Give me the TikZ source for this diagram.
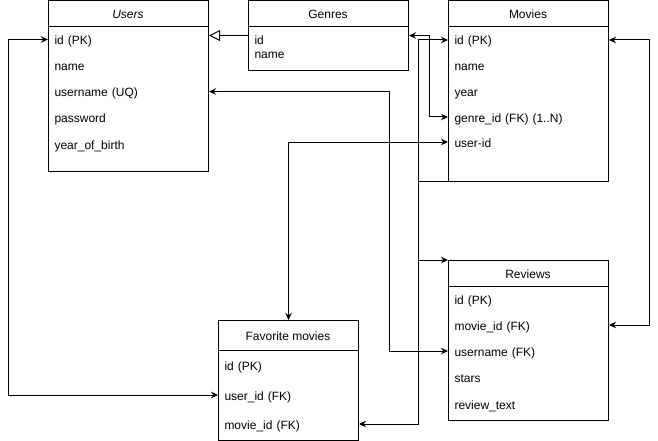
\documentclass[tikz,border=0pt]{standalone}
\usepackage{fontspec}
\setmainfont{Liberation Sans}
\usetikzlibrary{arrows.meta}
\begin{document}
\begin{tikzpicture}[x=1pt,y=-1pt,line width=1pt,
  every node/.style={font=\fontsize{12}{14}\selectfont},
  box/.style={draw, anchor=north west, minimum width=160pt, inner sep=0pt},
  ttl/.style={anchor=center, inner sep=0pt, text height=11pt, text depth=1pt},
  row/.style={anchor=west, inner xsep=6pt, inner ysep=0pt, text width=148pt, align=left, text height=11pt, text depth=1pt},
  frow/.style={row, text width=128pt},
  tip/.tip={Stealth[length=7pt,width=6.5pt]},
  biarrow/.style={tip-tip},
  onearrow/.style={-tip},
  inherit/.style={-{Triangle[open,length=11pt,width=11pt]}}
]
\useasboundingbox (0,0) rectangle (658,441);

% Users
\node[box, minimum height=170pt] (users) at (48,0.5) {};
\node[ttl, font=\fontsize{12}{14}\selectfont\itshape] (usersT) at (128,13.5) {Users};
\draw ([yshift=-26pt]users.north west) -- ([yshift=-26pt]users.north east);
\node[row] (u-id) at (48,39.5) {id (PK)};
\node[row] (u-name) at (48,65.5) {name};
\node[row] (u-user) at (48,91.5) {username (UQ)};
\node[row] (u-pass) at (48,117.5) {password};
\node[row] (u-year) at (48,144) {year\_of\_birth};

% Genres
\node[box, minimum height=70pt] (genres) at (248,0.5) {};
\node[ttl] (genresT) at (328,13.5) {Genres};
\draw ([yshift=-26pt]genres.north west) -- ([yshift=-26pt]genres.north east);
\node[row] (gid) at (248,39.5) {id};
\node[row] (gname) at (248,53.5) {name};

% Movies
\node[box, minimum height=180pt] (movies) at (448,0.5) {};
\node[ttl] (moviesT) at (528,13.5) {Movies};
\draw ([yshift=-26pt]movies.north west) -- ([yshift=-26pt]movies.north east);
\node[row] (m-id) at (448,40) {id (PK)};
\node[row] (m-name) at (448,66) {name};
\node[row] (m-year) at (448,92) {year};
\node[row] (m-genre) at (448,117) {genre\_id (FK) (1..N)};
\node[row] (m-user) at (448,142) {user-id};

% Reviews
\node[box, minimum height=160pt] (reviews) at (448,260) {};
\node[ttl] (reviewsT) at (528,273) {Reviews};
\draw ([yshift=-26pt]reviews.north west) -- ([yshift=-26pt]reviews.north east);
\node[row] (r-id) at (448,299) {id (PK)};
\node[row] (r-movie) at (448,325) {movie\_id (FK)};
\node[row] (r-user) at (448,351) {username (FK)};
\node[row] (r-stars) at (448,377) {stars};
\node[row] (r-text) at (448,404) {review\_text};

% Favorite movies
\node[box, minimum width=140pt, minimum height=120pt] (fav) at (218,320) {};
\node[ttl] (favT) at (288,335) {Favorite movies};
\draw ([yshift=-30pt]fav.north west) -- ([yshift=-30pt]fav.north east);
\node[frow] (f-id) at (218,365) {id (PK)};
\node[frow] (f-user) at (218,395) {user\_id (FK)};
\node[frow] (f-movie) at (218,424) {movie\_id (FK)};

% Connectors
\coordinate (ga) at ([yshift=4pt]gid.west);
\draw[inherit] (ga) -- (ga -| users.east);

\coordinate (gb) at ([yshift=4pt]gid.east);
\draw[biarrow] (gb) -- ++(20,0) |- (m-genre.west);

\draw[biarrow] (m-id.west) -- ++(-30,0) |- (f-movie.east);
\coordinate (t1) at ([xshift=-30pt]movies.south west);
\draw (t1) -- (movies.south west);
\coordinate (t2) at ([xshift=-30pt]reviews.north west);
\draw[onearrow] (t2) -- (reviews.north west);

\draw[biarrow] (m-id.east) -- ++(40,0) |- (r-movie.east);

\draw[biarrow] (u-user.east) -- ++(180,0) |- (r-user.west);

\draw[biarrow] (u-id.west) -- ++(-40,0) |- (f-user.west);

\draw[biarrow] (m-user.west) -| (fav.north);
\end{tikzpicture}
\end{document}
